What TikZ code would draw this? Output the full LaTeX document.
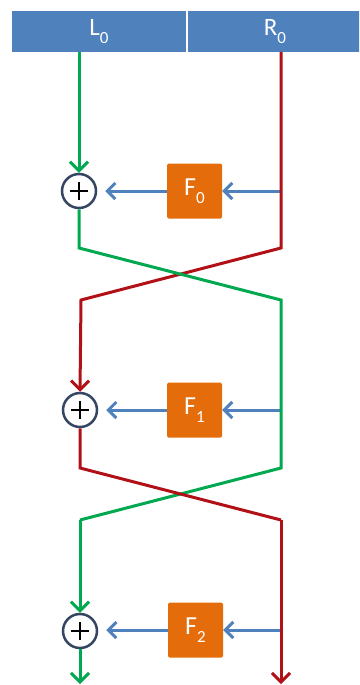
\documentclass[tikz,border=0pt]{standalone}
\usepackage{fontspec}
\setmainfont{Carlito}
\usetikzlibrary{arrows.meta}
\definecolor{barblue}{RGB}{79,129,189}
\definecolor{tapblue}{RGB}{79,129,189}
\definecolor{wiregreen}{RGB}{0,168,80}
\definecolor{wirered}{RGB}{176,16,22}
\definecolor{boxorange}{RGB}{228,108,10}
\definecolor{ringgray}{RGB}{52,70,98}
\newcommand{\lowidx}[1]{\raisebox{-0.6ex}{\fontsize{17}{17}\selectfont #1}}
\tikzset{
  half/.style={rectangle, fill=barblue, minimum height=41pt, minimum width=174pt, inner sep=0pt, text=white, font=\fontsize{25}{25}\selectfont},
  fbox/.style={rectangle, fill=boxorange, rounded corners=1.5pt, minimum size=55pt, inner sep=0pt, text=white, font=\fontsize{26}{26}\selectfont},
  xor/.style={circle, draw=ringgray, line width=2.5pt, fill=white, minimum size=34pt, inner sep=0pt,
    path picture={\draw[black, line width=2.4pt] ([xshift=-9pt]path picture bounding box.center) -- ([xshift=9pt]path picture bounding box.center)
      ([yshift=-9pt]path picture bounding box.center) -- ([yshift=9pt]path picture bounding box.center);}},
  wire/.style={line width=3pt, line join=miter},
  tip/.style={-{Straight Barb[length=9pt,width=18pt]}},
  tap/.style={draw=tapblue, line width=3pt, -{Straight Barb[length=8pt,width=16pt]}}
}
\begin{document}
\begin{tikzpicture}[x=1pt, y=-1pt]
  \clip (0,0) rectangle (359,685);
  \fill[white] (0,0) rectangle (359,685);
  % input halves
  \node[half] (L0) at (99,31.5) {L\lowidx{0}};
  \node[half] (R0) at (275,31.5) {R\lowidx{0}};
  % xor nodes and round functions
  \node[xor] (x0) at (79,191) {};
  \node[xor] (x1) at (80,410) {};
  \node[xor] (x2) at (80,631) {};
  \node[fbox] (f0) at (194.5,191) {F\lowidx{0}};
  \node[fbox] (f1) at (194.5,410) {F\lowidx{1}};
  \node[fbox] (f2) at (195.5,630) {F\lowidx{2}};
  % turning points
  \coordinate (lt) at (79,52);
  \coordinate (rt) at (281,52);
  \coordinate (a1) at (79,248);
  \coordinate (b1) at (281,248);
  \coordinate (c1) at (81,300);
  \coordinate (d1) at (281,300);
  \coordinate (a2) at (80,468);
  \coordinate (b2) at (281,468);
  \coordinate (c2) at (80,520);
  \coordinate (d2) at (281,520);
  \coordinate (lend) at (80,684);
  \coordinate (rend) at (281,684);
  % taps into F
  \draw[tap] (f0.east -| rt) -- (f0.east);
  \draw[tap] (f1.east -| rt) -- (f1.east);
  \draw[tap] (f2.east -| rt) -- (f2.east);
  \draw[tap, shorten >=8pt] (f0.west) -- (x0.east |- f0.west);
  \draw[tap, shorten >=8pt] (f1.west) -- (x1.east |- f1.west);
  \draw[tap, shorten >=8pt] (f2.west) -- (x2.east |- f2.west);
  % wires
  \draw[wire, wirered, tip] (rt) -- (b1) -- (c1) -- (x1.north);
  \draw[wire, wiregreen, tip] (lt) -- (x0.north);
  \draw[wire, wiregreen] (x0.south) -- (a1) -- (d1) -- (b2) -- (c2);
  \draw[wire, wiregreen, tip] (c2) -- (x2.north);
  \draw[wire, wirered] (x1.south) -- (a2) -- (d2);
  \draw[wire, wirered, tip] (d2) -- (rend);
  \draw[wire, wiregreen, tip] (x2.south) -- (lend);
  % white gap between halves
  \draw[white, line width=2pt] (187,11) -- (187,52);
\end{tikzpicture}
\end{document}
